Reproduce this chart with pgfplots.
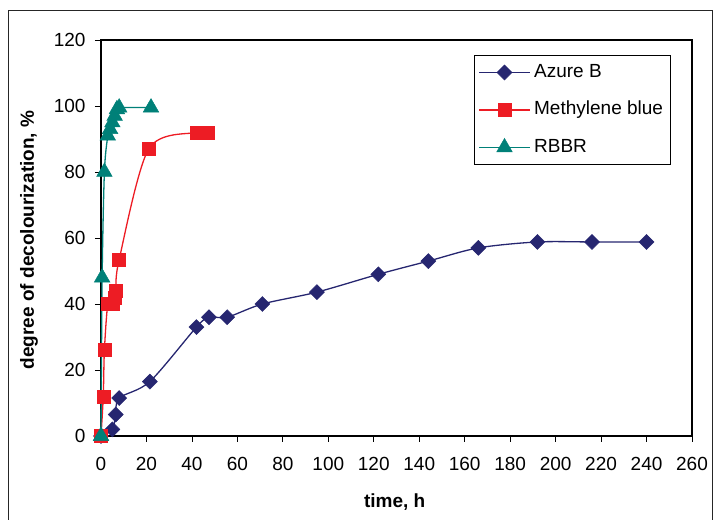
\documentclass[border=0pt]{standalone}
\usepackage{pgfplots}
\pgfplotsset{compat=1.18}
\usepackage{fontspec}
\setmainfont{Liberation Sans}
\definecolor{azure}{RGB}{38,38,112}
\definecolor{mblue}{RGB}{237,28,36}
\definecolor{rbbr}{RGB}{0,128,120}

\begin{document}
\fontsize{19bp}{23bp}\selectfont
\begin{tikzpicture}
\begin{axis}[
  at={(101bp,84bp)}, anchor=south west,
  scale only axis, width=591bp, height=396bp,
  xmin=0, xmax=260, ymin=0, ymax=120,
  xtick={0,20,...,260}, ytick={0,20,...,120},
  tick align=outside, xtick pos=bottom, ytick pos=left,
  major tick length=6bp,
  axis line style={line width=1.3bp},
  every tick/.style={black, line width=0.8bp},
  tick label style={font=\fontsize{19bp}{23bp}\selectfont},
  /pgf/number format/assume math mode=true,
  xticklabel style={yshift=-9bp},
  yticklabel style={xshift=-3bp},
  xlabel={\bfseries time, h},
  ylabel={\bfseries degree of decolourization, \%},
  label style={font=\fontsize{19bp}{23bp}\selectfont},
  xlabel style={at={(axis description cs:0.497,-0.168)}, anchor=center},
  ylabel style={at={(axis description cs:-0.122,0.495)}, anchor=center},
  clip=false,
  legend style={at={(axis description cs:0.9635,0.962)}, anchor=north east,
    draw=black, line width=0.8bp, font=\fontsize{19bp}{23bp}\selectfont,
    nodes={inner ysep=6bp, inner xsep=3.5bp, text height=14bp, text depth=4bp},
    row sep=7.5bp, inner xsep=3.5bp, inner ysep=2bp},
  legend cell align=left,
  legend image code/.code={\draw[mark repeat=2,mark phase=2,#1] plot coordinates {(0bp,0bp) (25.5bp,0bp) (51bp,0bp)};},
]
\addplot[azure, line width=1.3bp, smooth, mark=square*, mark size=5.3bp,
  mark options={rotate=45, solid, fill=azure, line width=0.5bp}] coordinates {
(0,0) (5,2) (6.5,6.5) (8,11.5) (21.5,16.5) (42,33) (47.5,36) (55.5,36) (71,40)
(95,43.6) (122,49) (144,53) (166,57) (192,58.8) (216,58.8) (240,58.8)};
\addlegendentry{Azure B}
\addplot[mblue, line width=1.3bp, smooth, mark=square*, mark size=6.5bp,
  mark options={solid, fill=mblue, line width=0.5bp}] coordinates {
(0,0) (1,12) (1.5,26) (3,40) (5,40) (6,42) (6.5,44) (8,53.5) (21,87) (42,92) (47,92)};
\addlegendentry{Methylene blue}
\addplot[rbbr, line width=1.3bp, smooth, mark=triangle*, mark size=9bp,
  mark options={solid, fill=rbbr, line width=0.5bp}] coordinates {
(0,0) (0.5,48) (1.5,80) (3,91) (4,93) (5,95) (6,97) (7,99) (8,99.5) (22,99.5)};
\addlegendentry{RBBR}
\end{axis}
\draw[line width=0.8bp, black!85] (8bp,-5bp) -- (8bp,510bp) -- (712bp,510bp) -- (712bp,-5bp);
\pgfresetboundingbox
\useasboundingbox (0,0) rectangle (715bp,520bp);
\end{tikzpicture}
\end{document}
